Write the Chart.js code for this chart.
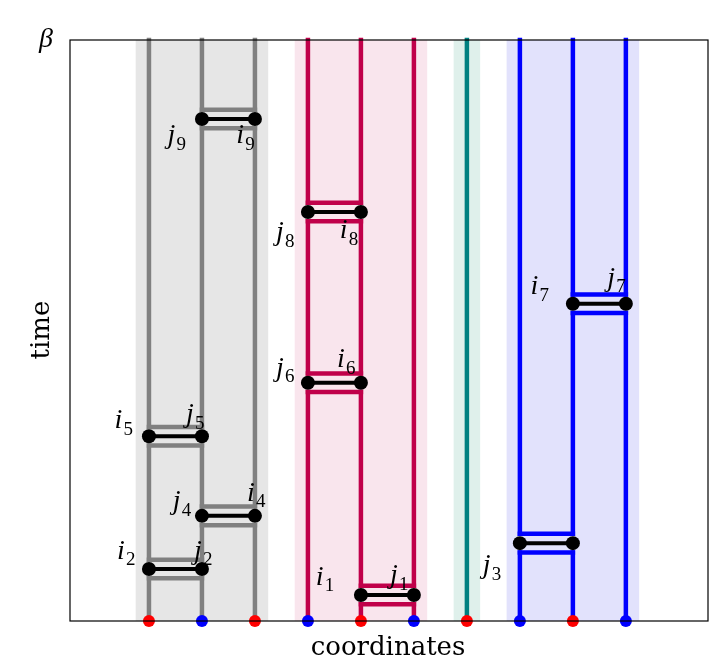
<!DOCTYPE html>
<html><head><meta charset="utf-8">
<script src="https://cdn.jsdelivr.net/npm/chart.js@4"></script>
<style>html,body{margin:0;padding:0;background:#fff}#w{width:723px;height:663px}</style>
</head><body><div id="w"><canvas id="c"></canvas></div>
<script>
const positions = [1,2,3,4,5,6,7,8,9,10];
const bottomDotColors = ['#ff0000','#0000ff','#ff0000','#0000ff','#ff0000','#0000ff','#ff0000','#0000ff','#ff0000','#0000ff'];
const lineGroup = [0,0,0,1,1,1,2,3,3,3];
const groupColors = ['#808080','#c0004a','#008080','#0000ff'];
const bandColors = ['rgba(200,200,200,0.45)','rgba(235,170,195,0.3)','rgba(150,205,190,0.3)','rgba(150,150,245,0.28)'];
const bandFrom = [0.75,3.75,6.75,7.75];
const bandTo = [3.25,6.25,7.25,10.25];
const swapLeft = [1,2,1,2,4,4,5,8,9];
const swapY = [0.0895,0.181,0.318,0.864,0.41,0.704,0.0447,0.134,0.546];
const swapGroup = [0,0,0,0,1,1,1,3,3];
const labelText = ['i','j','j','i','i','j','j','i','j','i','j','i','i','j','j','i','j'];
const labelSub = ['2','2','4','4','5','5','9','9','6','6','8','8','1','1','3','7','7'];
const labelX = [0.55,2.0,1.6,3.0,0.5,1.85,1.5,2.8,3.55,4.7,3.55,4.75,4.3,5.7,7.45,8.35,9.8];
const labelY = [0.12,0.12,0.205,0.22,0.345,0.355,0.835,0.835,0.435,0.45,0.668,0.672,0.075,0.078,0.095,0.575,0.59];
const D = 0.016;

const datasets = [];
positions.forEach((p,k)=>{
  const ev = [];
  swapLeft.forEach((a,s)=>{ if(a===p||a+1===p) ev.push(swapY[s]); });
  ev.sort((u,v)=>u-v);
  const pts=[]; let start=0;
  ev.forEach(y=>{ pts.push({x:p,y:start},{x:p,y:y-D},{x:p,y:null}); start=y+D; });
  pts.push({x:p,y:start},{x:p,y:1});
  datasets.push({data:pts,showLine:true,spanGaps:false,borderColor:groupColors[lineGroup[k]],borderWidth:4.5,pointRadius:0,clip:false,order:3,borderCapStyle:'square'});
});
swapLeft.forEach((a,k)=>{
  const c = groupColors[swapGroup[k]];
  [swapY[k]-D, swapY[k]+D].forEach(y=>datasets.push({data:[{x:a,y},{x:a+1,y}],showLine:true,borderColor:c,borderWidth:4.5,pointRadius:0,order:2,borderCapStyle:'square'}));
  datasets.push({data:[{x:a,y:swapY[k]},{x:a+1,y:swapY[k]}],showLine:true,borderColor:'#000',borderWidth:4,pointRadius:7,pointBackgroundColor:'#000',pointBorderWidth:0,order:1});
});
datasets.push({data:positions.map(p=>({x:p,y:0})),showLine:false,pointRadius:6,pointBackgroundColor:bottomDotColors,pointBorderWidth:0,clip:false,order:0});

const deco = {
  id:'deco',
  beforeDatasetsDraw(ch){
    const {ctx,chartArea:a,scales:{x}} = ch;
    ctx.save();
    bandFrom.forEach((f,k)=>{ctx.fillStyle=bandColors[k];const l=x.getPixelForValue(f),r=x.getPixelForValue(bandTo[k]);ctx.fillRect(l,a.top,r-l,a.bottom-a.top);});
    ctx.restore();
  },
  afterDraw(ch){
    const {ctx,chartArea:a,scales:{x,y}} = ch;
    ctx.save();
    ctx.strokeStyle='#000';ctx.lineWidth=1.2;ctx.strokeRect(a.left,a.top,a.right-a.left,a.bottom-a.top);
    ctx.fillStyle='#000';ctx.textBaseline='middle';ctx.textAlign='center';
    ctx.font='italic 28px "Liberation Serif"';ctx.fillText('β',46,40);
    ctx.font='26px "DejaVu Serif"';ctx.fillText('coordinates',388,648);
    ctx.save();ctx.translate(42,330);ctx.rotate(-Math.PI/2);ctx.fillText('time',0,0);ctx.restore();
    labelText.forEach((t,k)=>{
      const px=x.getPixelForValue(labelX[k]),py=y.getPixelForValue(labelY[k]);
      ctx.textAlign='left';
      ctx.font='italic 28px "Liberation Serif"';ctx.fillText(t,px-8,py);
      ctx.font='19px "Liberation Serif"';ctx.fillText(labelSub[k],px+1,py+9);
    });
    ctx.restore();
  }
};

new Chart(document.getElementById('c'),{
  type:'scatter',
  data:{datasets},
  options:{responsive:true,maintainAspectRatio:false,animation:false,
    layout:{padding:{left:70,top:40,right:15,bottom:42}},
    plugins:{legend:{display:false},tooltip:{enabled:false}},
    scales:{x:{type:'linear',min:-0.49,max:11.55,display:false},y:{type:'linear',min:0,max:1,display:false}}},
  plugins:[deco]
});
</script></body></html>
